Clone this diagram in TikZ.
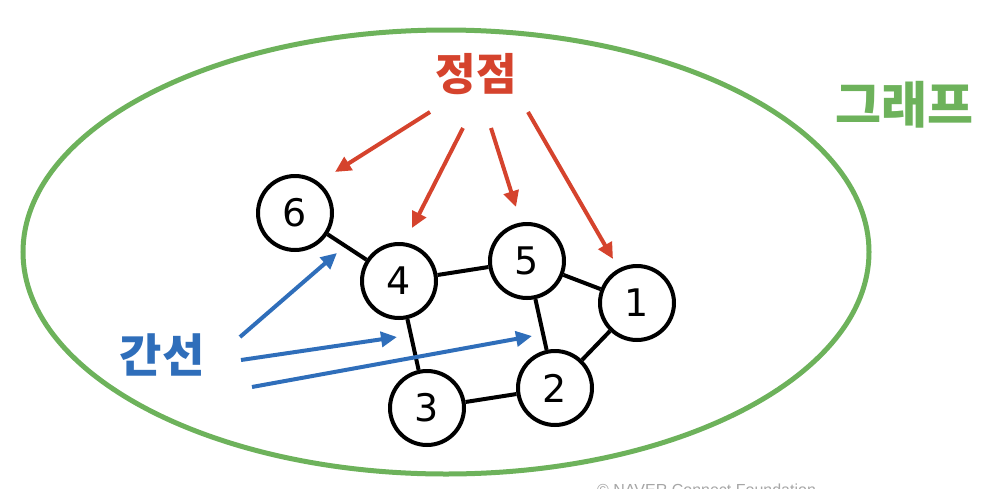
\documentclass[tikz,border=0pt]{standalone}
\usepackage{fontspec}
\setmainfont{DejaVu Sans}
\newfontfamily\kr{Noto Sans CJK KR}
\newfontfamily\foot{Liberation Sans}
\usetikzlibrary{arrows.meta}
\definecolor{gred}{HTML}{D5432D}
\definecolor{gblue}{HTML}{2F6EBA}
\definecolor{ggreen}{HTML}{6DB25B}
\begin{document}
\begin{tikzpicture}[x=1pt,y=-1pt,
  vert/.style={circle,draw=black,line width=4pt,fill=white,minimum size=74pt,inner sep=0pt,font=\fontsize{38}{38}\selectfont},
  edge/.style={line width=4pt,black},
  redarr/.style={gred,line width=4pt,-{Triangle[length=16pt,width=15pt]}},
  bluearr/.style={gblue,line width=4pt,-{Triangle[length=16pt,width=15pt]}},
  lab/.style={font=\kr\bfseries\fontsize{44}{44}\selectfont,inner sep=0pt}]
\useasboundingbox (0,0) rectangle (990,488);
\clip (0,0) rectangle (990,488);
\draw[ggreen,line width=5pt] (446,252) ellipse [x radius=423, y radius=222];
\node[vert] (v6) at (295,213) {6};
\node[vert] (v4) at (399,281) {4};
\node[vert] (v5) at (527,261) {5};
\node[vert] (v1) at (637,303) {1};
\node[vert] (v2) at (555,388) {2};
\node[vert] (v3) at (427,408) {3};
\draw[edge] (v6) -- (v4);
\draw[edge] (v4) -- (v5);
\draw[edge] (v5) -- (v1);
\draw[edge] (v5) -- (v2);
\draw[edge] (v1) -- (v2);
\draw[edge] (v4) -- (v3);
\draw[edge] (v3) -- (v2);
\node[lab,text=gred] (jj) at (476,74) {정점};
\node[lab,text=ggreen,font=\kr\bfseries\fontsize{50}{50}\selectfont] (gr) at (904,105) {그래프};
\node[lab,text=gblue,font=\kr\bfseries\fontsize{46}{46}\selectfont] (gs) at (162,355) {간선};
\coordinate (r1s) at (430,112); \coordinate (r1e) at (335,172);
\coordinate (r2s) at (463,128); \coordinate (r2e) at (412,228);
\coordinate (r3s) at (491,128); \coordinate (r3e) at (516,207);
\coordinate (r4s) at (528,112); \coordinate (r4e) at (613,259);
\draw[redarr] (r1s) -- (r1e);
\draw[redarr] (r2s) -- (r2e);
\draw[redarr] (r3s) -- (r3e);
\draw[redarr] (r4s) -- (r4e);
\coordinate (b1s) at (240,337); \coordinate (b1e) at (337,253);
\coordinate (b2s) at (241,360); \coordinate (b2e) at (397,337);
\coordinate (b3s) at (252,387); \coordinate (b3e) at (532,336);
\draw[bluearr] (b1s) -- (b1e);
\draw[bluearr] (b2s) -- (b2e);
\draw[bluearr] (b3s) -- (b3e);
\node[font=\foot\fontsize{16}{16}\selectfont,text=black!35,anchor=base west,inner sep=0pt] (ft) at (597,495) {© NAVER Connect Foundation};
\end{tikzpicture}
\end{document}
